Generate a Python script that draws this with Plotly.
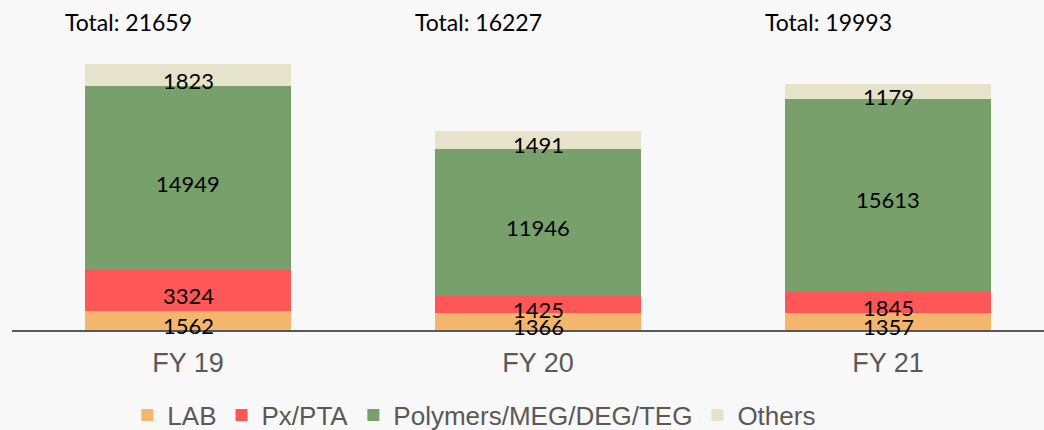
import plotly.graph_objects as go
import numpy as np

categories = ["FY 19", "FY 20", "FY 21"]
lab = [1562, 1366, 1357]
px_pta = [3324, 1425, 1845]
polymers = [14949, 11946, 15613]
others = [1823, 1491, 1179]
totals = [21659, 16227, 19993]

series = [
    ("LAB", lab, "#F4B66C"),
    ("Px/PTA", px_pta, "#FF5757"),
    ("Polymers/MEG/DEG/TEG", polymers, "#78A06A"),
    ("Others", others, "#E5E3CA"),
]

label_font = dict(family="Lato, Open Sans, sans-serif", size=22, color="#000000")
axis_font = dict(family="Liberation Sans, Arial, sans-serif", size=27, color="#595959")

fig = go.Figure()
base = np.zeros(len(categories))
for name, vals, color in series:
    fig.add_trace(go.Bar(
        name=name, x=categories, y=vals,
        marker=dict(color=color, line=dict(width=0)),
        width=0.59,
    ))
    mids = base + np.array(vals) / 2
    for cat, m, v in zip(categories, mids, vals):
        fig.add_annotation(
            x=cat, y=m, xref="x", yref="y", text=str(v), showarrow=False,
            yanchor="middle", yshift=-5, font=label_font,
        )
    base = base + np.array(vals)

for cat, tot in zip(categories, totals):
    fig.add_annotation(
        x=cat, y=0.933, xref="x", yref="paper", yanchor="middle",
        text=f"Total: {tot}", showarrow=False,
        xshift=-60, font=dict(family="Lato, Open Sans, sans-serif", size=23, color="#000000"),
    )

fig.update_layout(
    barmode="stack",
    width=1044, height=430,
    margin=dict(l=12, r=0, t=0, b=100, autoexpand=False),
    paper_bgcolor="#F8F8F8",
    plot_bgcolor="#F8F8F8",
    showlegend=True,
    legend=dict(
        orientation="h", traceorder="normal",
        x=0.448, xanchor="center", yref="container", y=1 - 415 / 430, yanchor="middle",
        font=dict(family="Liberation Sans, Arial, sans-serif", size=26, color="#595959"),
        bgcolor="rgba(0,0,0,0)", itemclick=False,
    ),
    xaxis=dict(
        range=[-(188 - 12) / 350, (1044 - 188) / 350],
        showline=True, linecolor="#595959", linewidth=2,
        showgrid=False, ticks="", tickfont=axis_font, ticklabelstandoff=8,
        fixedrange=True,
    ),
    yaxis=dict(
        range=[0, 330 / 0.01228],
        visible=False, showgrid=False, zeroline=False, fixedrange=True,
    ),
)

fig.write_html(
    "out.html",
    config={"displayModeBar": False},
    post_script="document.body.style.margin='0';document.body.style.background='#F8F8F8';",
)
